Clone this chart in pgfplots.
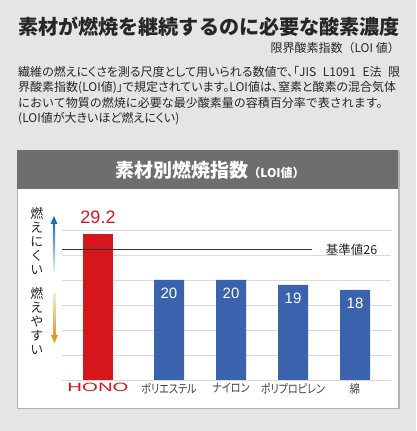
\documentclass[border=0pt]{standalone}
\usepackage{pgfplots}
\pgfplotsset{compat=1.18}
\usepackage{fontspec}
\setmainfont{Noto Sans CJK JP}
\newfontfamily\jpp{Noto Sans CJK JP}[RawFeature=+palt]
\newfontfamily\lib{Liberation Sans}
\usetikzlibrary{arrows.meta}
\XeTeXlinebreaklocale "ja"
\XeTeXlinebreakskip=0pt plus 2pt minus 1pt
\newcommand\sx[1]{\scalebox{0.84}[1]{#1}}
\definecolor{bg}{HTML}{E4E5E6}
\definecolor{txt}{HTML}{262626}
\definecolor{hdr}{HTML}{6E6E6E}
\definecolor{hono}{HTML}{D7161C}
\definecolor{barblue}{HTML}{3B63AD}
\definecolor{gridc}{HTML}{DCD8D4}
\definecolor{arrblue}{HTML}{1C6FB6}
\definecolor{arrorange}{HTML}{E8961C}
\begin{document}
\begin{tikzpicture}
\useasboundingbox (0,0) rectangle (416pt,431pt);
\fill[bg] (0,0) rectangle (416pt,431pt);
% title
\node[anchor=west, inner sep=0, text=txt, font={\fontsize{20.1}{24}\selectfont\bfseries}] at (18pt,404pt) {素材が燃焼を継続するのに必要な酸素濃度};
\node[anchor=east, inner sep=0, text=txt, font={\fontsize{12}{14}\selectfont}] at (400pt,383pt) {限界酸素指数（LOI 値）};
% paragraph
\begin{scope}[every node/.style={anchor=west, inner sep=0, text=txt, font={\jpp\fontsize{12}{14}\selectfont}}]
\node at (18pt,359pt) {\makebox[382pt][s]{繊維の燃えにくさを測る尺度として用いられる数値で、「JIS L1091 E法 限}};
\node at (18pt,343.5pt) {\makebox[382pt][s]{界酸素指数(LOI値)」で規定されています。LOI値は、窒素と酸素の混合気体}};
\node[font={\fontsize{12}{14}\selectfont}] at (18pt,328pt) {において物質の燃焼に必要な最少酸素量の容積百分率で表されます。};
\node at (18pt,312.5pt) {(LOI値が大きいほど燃えにくい)};
\end{scope}
% panel
\fill[black!30] (18.5pt,21.5pt) rectangle (399.5pt,279.5pt);
\fill[white] (17pt,23pt) rectangle (398pt,281pt);
\draw[black!30, line width=0.6pt] (17pt,23pt) rectangle (398pt,281pt);
\fill[hdr] (17pt,242pt) rectangle (398pt,281pt);
\node[text=white, inner sep=0] at (210pt,261pt) {{\fontsize{19}{22}\selectfont\bfseries 素材別燃焼指数}{\fontsize{12}{14}\selectfont\bfseries （LOI値）}};
% side labels
\node[align=center, inner sep=0, text=txt, font={\fontsize{13}{14}\selectfont}] at (37pt,189.5pt) {燃\\え\\に\\く\\い};
\node[align=center, inner sep=0, text=txt, font={\fontsize{13}{14}\selectfont}] at (37pt,109.5pt) {燃\\え\\や\\す\\い};
% arrows
\shade[bottom color=arrblue!10, top color=arrblue] (52.9pt,159pt) rectangle (55.1pt,208pt);
\fill[arrblue] (50.5pt,207pt) -- (57.5pt,207pt) -- (54pt,215pt) -- cycle;
\shade[top color=arrorange!20, bottom color=arrorange] (53.4pt,137pt) rectangle (55.6pt,95pt);
\fill[arrorange] (51pt,96pt) -- (58pt,96pt) -- (54.5pt,88pt) -- cycle;
\begin{axis}[
  at={(62pt,51pt)}, anchor=south west, scale only axis,
  width=329pt, height=150pt,
  xmin=62, xmax=391, ymin=0, ymax=30,
  axis line style={draw=none},
  ytick={0,5,...,30}, yticklabels={},
  ymajorgrids, grid style={gridc, line width=0.9pt},
  major tick length=0pt,
  xtick={98,169,231,293,355},
  xticklabels={{\color{hono}\lib\scalebox{1.7}[1]{HONO}}, \sx{ポリエステル}, \sx{ナイロン}, \sx{ポリプロピレン}, \sx{綿}},
  xticklabel style={font={\jpp\fontsize{12}{14}\selectfont}, text=black!75},
  clip=false,
  /pgf/number format/assume math mode=true,
]
\addplot[ybar, bar width=30pt, bar shift=0pt, fill=hono, draw=none,
  nodes near coords,
  every node near coord/.append style={font={\lib\fontsize{18}{20}\selectfont}, text=hono, inner sep=0pt, anchor=south, yshift=10.5pt}]
  coordinates {(98,29.2)};
\addplot[ybar, bar width=30pt, bar shift=0pt, fill=barblue, draw=none,
  nodes near coords,
  every node near coord/.append style={font={\lib\fontsize{15}{17}\selectfont}, text=white, inner sep=0pt, anchor=north, yshift=-7.6pt}]
  coordinates {(169,20) (231,20) (293,19) (355,18)};
\addplot[black!80, line width=1pt] coordinates {(62,26) (312,26)};
\node[text=txt, font={\fontsize{12.5}{14}\selectfont}] at (axis cs:351.5,26) {基準値26};
\end{axis}
\end{tikzpicture}
\end{document}
